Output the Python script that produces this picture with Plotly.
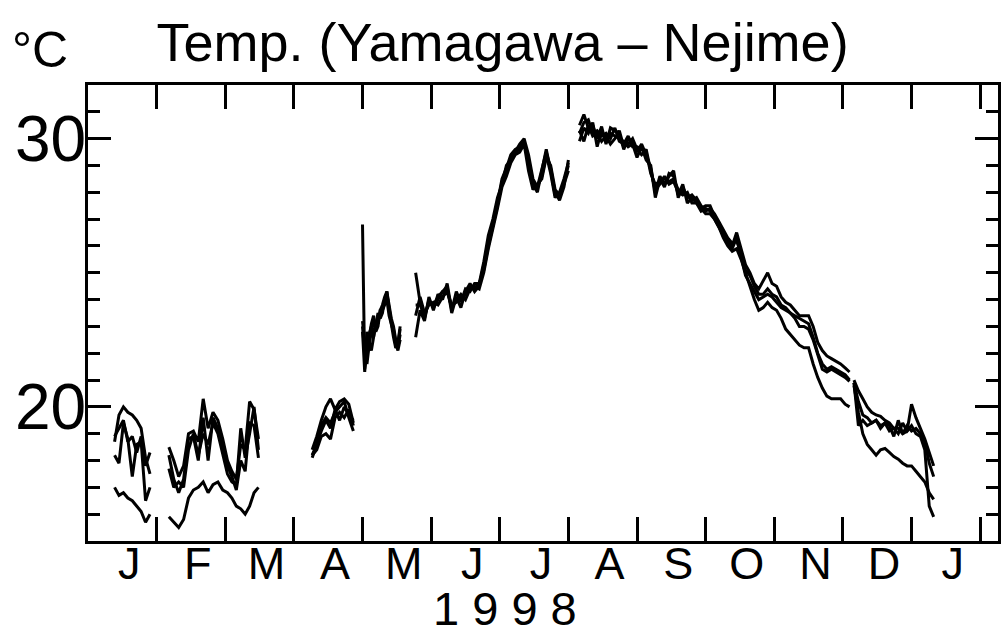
import numpy as np
import plotly.graph_objects as go

# ---------------------------------------------------------------------------
# Calendar: day-of-year (1 = 1 Jan 1998, continuing into 1999) of month starts.
# The time axis uses equal-width months, so a date maps to month index + fraction.
MONTH_START_DOY = [1, 32, 60, 91, 121, 152, 182, 213, 244, 274, 305, 335, 366, 397, 425]
MONTH_LETTERS = ["J", "F", "M", "A", "M", "J", "J", "A", "S", "O", "N", "D", "J"]
YEAR_LABEL = "1 9 9 8"
Y_MAJOR = [20, 30]

# ---------------------------------------------------------------------------
# Water temperature (deg C) at four stations, sampled in continuous segments.
# Each segment: first day-of-year, sampling step in days, one list per station.

jan_start, jan_step = 13, 2
jan_st1 = [18.7, 19.7, 20.0, 19.8, 19.7, 19.5, 19.2, 18.1, 17.5]
jan_st2 = [18.2, 17.9, 19.4, 18.8, 17.4, 18.6, 18.7, 16.5, 17.0]
jan_st3 = [18.9, 19.2, 19.5, 18.7, 18.9, 18.3, 18.9, 17.8, 18.3]
jan_st4 = [17.0, 16.7, 16.8, 16.6, 16.5, 16.3, 16.1, 15.7, 16.0]

feb_start, feb_step = 37, 2
feb_st1 = [18.5, 18.0, 17.4, 17.8, 19.0, 19.1, 18.7, 20.3, 19.2, 19.8,
           19.5, 18.8, 18.0, 17.6, 17.3, 18.6, 18.4, 20.2, 19.9, 18.8]
feb_st2 = [17.7, 17.0, 17.2, 17.0, 18.4, 19.0, 18.2, 19.0, 18.6, 19.4,
           19.0, 18.2, 17.5, 17.2, 17.1, 19.2, 18.1, 19.0, 20.0, 18.4]
feb_st3 = [18.2, 17.3, 16.8, 17.3, 18.8, 18.9, 18.0, 19.6, 18.0, 19.6,
           19.2, 18.5, 17.8, 17.4, 16.9, 18.0, 17.6, 19.4, 19.3, 18.1]
feb_st4 = [15.9, 15.7, 15.5, 15.8, 16.6, 16.9, 17.0, 17.2, 16.8, 17.1,
           17.2, 16.9, 16.8, 16.6, 16.3, 16.2, 16.0, 16.3, 16.8, 17.0]

apr_start, apr_step = 99, 2
apr_st1 = [18.4, 18.9, 19.5, 20.0, 20.3, 19.9, 20.2, 20.3, 20.1, 19.4]
apr_st2 = [18.1, 18.6, 19.3, 19.6, 19.4, 19.8, 20.0, 20.2, 19.6, 19.1]
apr_st3 = [18.2, 18.4, 18.9, 19.0, 18.8, 19.6, 19.8, 19.6, 19.9, 19.3]
apr_st4 = [18.2, 18.6, 19.1, 19.5, 19.2, 19.9, 19.5, 20.0, 19.7, 19.5]

may_start, may_step = 121, 1
may_st1 = [26.8, 21.4, 22.0, 22.7, 23.0, 22.6, 23.2, 23.1, 23.6,
           23.8, 24.1, 24.3, 23.6, 23.0, 22.6, 22.2, 22.3, 22.9]
may_st2 = [23.2, 22.4, 21.6, 22.3, 22.8, 23.3, 22.9, 23.3, 23.4,
           23.7, 23.9, 24.0, 23.4, 23.1, 22.8, 22.3, 22.2, 22.7]
may_st3 = [22.8, 21.3, 22.8, 22.5, 22.1, 22.6, 23.0, 23.5, 23.3,
           23.5, 24.0, 24.2, 23.7, 23.2, 22.9, 22.4, 22.1, 22.5]
may_st4 = [23.0, 22.0, 21.8, 22.6, 23.1, 23.4, 22.8, 23.0, 23.6,
           23.6, 23.8, 24.3, 23.8, 23.3, 23.0, 22.5, 22.4, 23.0]

sum_start, sum_step = 145, 2
sum_st1 = [25.0, 23.9, 23.3, 24.0, 23.7, 24.0, 24.3, 24.5, 23.5, 24.1,
           23.7, 24.3, 24.6, 24.3, 24.5, 25.3, 26.2, 26.9, 27.6, 28.5,
           28.9, 29.4, 29.6, 29.7, 29.9, 29.1, 28.3, 28.0, 28.8, 29.6,
           28.8, 27.9, 27.8, 28.4, 29.0]
sum_st2 = [23.4, 24.1, 23.5, 23.8, 23.9, 23.8, 24.1, 24.3, 23.7, 24.0,
           24.2, 24.0, 24.4, 24.5, 24.4, 25.0, 25.9, 26.6, 27.4, 28.2,
           28.6, 29.1, 29.4, 29.5, 29.8, 28.8, 28.1, 28.3, 28.5, 29.3,
           29.0, 28.1, 27.9, 28.3, 28.8]
sum_st3 = [22.6, 23.6, 23.2, 24.1, 23.6, 24.2, 24.0, 24.6, 23.6, 24.3,
           23.9, 24.4, 24.3, 24.6, 24.6, 25.4, 26.4, 27.0, 27.8, 28.3,
           29.0, 29.2, 29.5, 29.8, 30.0, 29.4, 28.5, 28.2, 28.6, 29.4,
           28.7, 27.8, 28.0, 28.5, 29.1]
sum_st4 = [23.8, 23.8, 23.4, 23.9, 23.8, 24.1, 24.3, 24.3, 23.8, 23.9,
           24.1, 24.2, 24.5, 24.4, 24.6, 25.1, 26.0, 26.7, 27.5, 28.4,
           28.7, 29.3, 29.5, 29.6, 29.8, 29.2, 28.4, 28.2, 28.8, 29.5,
           28.9, 28.0, 27.7, 28.2, 29.2]

aut_start, aut_step = 218, 2
aut_st1 = [30.5, 30.9, 30.4, 30.5, 30.0, 30.45, 29.8, 30.4, 30.3, 30.2,
           29.6, 30.0, 29.9, 29.5, 29.8, 29.4, 28.9, 28.0, 28.6, 28.3,
           28.6, 28.8, 27.8, 28.2, 27.8, 27.9, 27.7, 27.4, 27.5, 27.5,
           27.1, 26.8, 26.5, 26.2, 26.0, 26.5, 25.9, 25.3, 25.0, 24.6,
           24.4, 24.7, 25.0, 24.6, 24.5, 24.1, 23.9, 23.8, 23.6, 23.4,
           23.4, 23.4, 23.0, 22.4, 22.1, 21.9, 21.8, 21.7, 21.6, 21.45,
           21.3]
aut_st2 = [30.2, 30.6, 30.7, 30.2, 30.3, 30.1, 30.2, 30.0, 30.4, 29.9,
           29.8, 30.1, 29.7, 29.7, 29.6, 29.5, 28.7, 28.3, 28.4, 28.5,
           28.4, 28.5, 28.1, 28.0, 27.9, 27.7, 27.8, 27.5, 27.3, 27.4,
           27.2, 26.9, 26.6, 26.3, 26.1, 26.2, 25.7, 25.1, 24.9, 24.5,
           24.2, 24.2, 24.4, 24.2, 24.1, 23.8, 23.7, 23.5, 23.4, 23.3,
           23.2, 23.1, 22.6, 22.0, 21.6, 21.4, 21.5, 21.4, 21.3, 21.2,
           21.0]
aut_st3 = [29.9, 30.4, 30.2, 30.6, 29.7, 30.3, 29.9, 30.2, 30.1, 30.0,
           29.9, 29.7, 29.8, 29.3, 29.7, 29.2, 29.0, 27.8, 28.5, 28.2,
           28.7, 28.6, 27.9, 28.3, 27.6, 27.8, 27.6, 27.3, 27.4, 27.3,
           27.0, 26.7, 26.4, 26.1, 25.9, 26.3, 25.6, 24.9, 24.6, 24.3,
           24.0, 24.1, 24.2, 24.1, 23.9, 23.7, 23.6, 23.5, 23.3, 23.0,
           23.0, 22.9, 22.5, 21.9, 21.4, 21.3, 21.4, 21.3, 21.2, 21.1,
           20.95]
aut_st4 = [30.3, 29.9, 30.5, 30.1, 30.2, 29.9, 30.1, 29.8, 30.0, 30.3,
           29.7, 29.8, 30.0, 29.6, 29.4, 29.6, 28.8, 28.1, 28.3, 28.6,
           28.3, 28.4, 28.0, 27.9, 28.0, 27.6, 27.6, 27.4, 27.2, 27.2,
           27.0, 26.7, 26.3, 26.0, 25.8, 25.9, 25.5, 25.0, 24.5, 24.0,
           23.6, 23.7, 23.9, 23.7, 23.6, 23.3, 22.9, 22.7, 22.5, 22.3,
           22.2, 22.2, 21.6, 21.1, 20.7, 20.4, 20.3, 20.3, 20.3, 20.1,
           20.0]

dec_start, dec_step = 340, 2
dec_st1 = [21.0, 20.6, 20.3, 20.0, 19.8, 19.7, 19.65, 19.5, 19.4, 19.2,
           19.2, 19.0, 19.1, 20.1, 19.6, 19.2, 18.8, 18.3, 17.8]
dec_st2 = [20.9, 19.3, 19.5, 19.3, 19.4, 19.5, 19.2, 19.4, 19.3, 18.9,
           19.5, 19.0, 19.3, 19.1, 19.2, 19.0, 18.7, 17.9, 17.4]
dec_st3 = [20.9, 20.2, 19.7, 19.6, 19.4, 19.5, 19.3, 19.4, 19.1, 19.2,
           19.0, 19.4, 19.1, 19.3, 19.0, 18.9, 18.4, 16.3, 15.9]
dec_st4 = [20.8, 19.8, 19.0, 18.6, 18.4, 18.2, 18.4, 18.45, 18.3, 18.15,
           18.05, 17.9, 17.8, 17.8, 17.6, 17.4, 17.2, 16.8, 16.55]

segments = [
    (jan_start, jan_step, [jan_st1, jan_st2, jan_st3, jan_st4]),
    (feb_start, feb_step, [feb_st1, feb_st2, feb_st3, feb_st4]),
    (apr_start, apr_step, [apr_st1, apr_st2, apr_st3, apr_st4]),
    (may_start, may_step, [may_st1, may_st2, may_st3, may_st4]),
    (sum_start, sum_step, [sum_st1, sum_st2, sum_st3, sum_st4]),
    (aut_start, aut_step, [aut_st1, aut_st2, aut_st3, aut_st4]),
    (dec_start, dec_step, [dec_st1, dec_st2, dec_st3, dec_st4]),
]

month_idx = np.arange(len(MONTH_START_DOY), dtype=float)


def doy_to_month(doy):
    """Day-of-year -> position on the equal-width month axis."""
    return np.interp(doy, MONTH_START_DOY, month_idx)


fig = go.Figure()

for k in range(4):
    xs, ys = [], []
    for start, step, series in segments:
        vals = series[k]
        doy = start + step * np.arange(len(vals))
        xs.extend(doy_to_month(doy).tolist())
        ys.extend(vals)
        xs.append(None)
        ys.append(None)
    fig.add_trace(go.Scatter(
        x=xs, y=ys, mode="lines", connectgaps=False,
        line=dict(color="black", width=3),
        showlegend=False, hoverinfo="skip",
    ))

# invisible trace carrying the month-letter axis
fig.add_trace(go.Scatter(x=[0], y=[None], xaxis="x2", showlegend=False,
                         hoverinfo="skip", mode="lines"))

FONT = "Liberation Sans, Arial, Helvetica, sans-serif"
X_RANGE = [0, 13.26]
LABEL_SHIFT = 0.1

fig.update_layout(
    width=1001, height=631,
    margin=dict(l=88, r=0, t=85, b=90),
    paper_bgcolor="white", plot_bgcolor="white",
    font=dict(family=FONT, color="black"),
    title=dict(text="Temp. (Yamagawa \u2013 Nejime)", font=dict(size=54, family=FONT),
               x=0.502, xref="container", xanchor="center",
               y=1 - 42 / 631, yref="container", yanchor="middle"),
    xaxis=dict(
        range=X_RANGE, tickmode="array",
        tickvals=list(range(len(MONTH_LETTERS) + 1)), ticktext=[""] * (len(MONTH_LETTERS) + 1),
        ticks="inside", ticklen=24, tickwidth=3, tickcolor="black",
        showline=True, linewidth=3, linecolor="black", mirror="ticks",
        showgrid=False, zeroline=False,
    ),
    xaxis2=dict(
        range=X_RANGE, overlaying="x", side="bottom", anchor="y",
        tickmode="array",
        tickvals=[i + 0.5 + LABEL_SHIFT for i in range(len(MONTH_LETTERS))],
        ticktext=MONTH_LETTERS, ticks="", showline=False, showgrid=False, zeroline=False,
        tickfont=dict(size=45, family=FONT), ticklabelstandoff=-8,
    ),
    yaxis=dict(
        range=[15, 32], tickmode="array", tickvals=Y_MAJOR,
        ticktext=[str(v) for v in Y_MAJOR],
        ticks="inside", ticklen=23, tickwidth=3, tickcolor="black",
        minor=dict(dtick=1, tick0=0, ticks="inside", ticklen=12, tickwidth=3, tickcolor="black"),
        showline=True, linewidth=3, linecolor="black", mirror="ticks",
        showgrid=False, zeroline=False,
        tickfont=dict(size=64, family=FONT), ticklabelstandoff=-14,
    ),
    annotations=[
        dict(text="\u00b0C", x=(40 - 88) / 912, y=(541 - 50) / 456, xref="paper", yref="paper",
             xanchor="center", yanchor="middle", showarrow=False,
             font=dict(size=50, family=FONT)),
        dict(text=YEAR_LABEL, x=(506 - 88) / 912, y=(541 - 608) / 456, xref="paper", yref="paper",
             xanchor="center", yanchor="middle", showarrow=False,
             font=dict(size=47, family=FONT)),
    ],
)

fig.write_html("out.html")
